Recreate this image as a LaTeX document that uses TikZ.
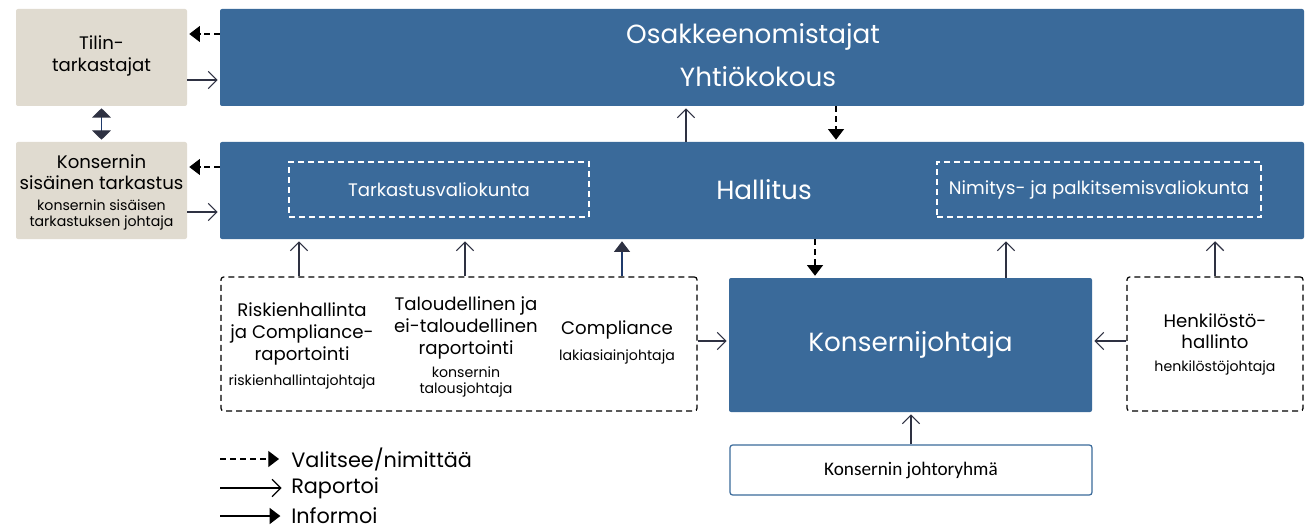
\documentclass[tikz,border=0pt]{standalone}
\usepackage{fontspec}
\setmainfont{Poppins}
\newfontfamily\calfont{Carlito}
\usetikzlibrary{arrows.meta}
\definecolor{boxblue}{HTML}{3A6A9A}
\definecolor{beige}{HTML}{E0DBD0}
\definecolor{arrgray}{HTML}{2E3142}
\definecolor{navy}{HTML}{1F3A6B}
\newcommand\pxu[1]{#1*0.75pt}
\tikzset{
  x=0.75pt, y=-0.75pt,
  bluebox/.style={fill=boxblue, rounded corners=1.5pt, inner sep=0pt, text=white},
  beigebox/.style={fill=beige, rounded corners=1.5pt, inner sep=0pt, text=black, align=center},
  wdash/.style={draw=white, line width=1pt, dash pattern=on 4.5pt off 3pt, inner sep=0pt, text=white},
  kdash/.style={draw=black, line width=0.9pt, dash pattern=on 4.5pt off 3pt, rounded corners=2pt, inner sep=0pt},
  report/.style={draw=arrgray, line width=0.9pt, -{Straight Barb[length=6.5pt,width=13pt,line width=0.9pt]}, shorten >=1.5pt},
  appoint/.style={draw=black, line width=0.9pt, dash pattern=on 4.5pt off 3pt, -{Triangle[length=8pt,width=12pt]}, shorten >=1.5pt},
  inform/.style={draw=navy, line width=0.9pt, -{Triangle[length=8pt,width=12pt,color=arrgray]}, shorten >=1.5pt},
  informleg/.style={draw=black, line width=0.9pt, -{Triangle[length=8pt,width=12pt]}, shorten >=1.5pt},
  big/.style={font=\fontsize{19.7}{23}\selectfont},
  mid/.style={font=\fontsize{13.6}{16.2}\selectfont},
  small/.style={font=\fontsize{10.6}{12}\selectfont},
  leg/.style={font=\fontsize{15.6}{18}\selectfont},
  txt/.style={inner sep=0pt, align=center},
}
\begin{document}
\begin{tikzpicture}
\useasboundingbox (0,0) rectangle (1308,531);
% boxes
\node[beigebox, minimum width={\pxu{171}}, minimum height={\pxu{97}}] (tilin) at (101.5,57.5) {};
\node[bluebox, minimum width={\pxu{1084}}, minimum height={\pxu{97}}] (osak) at (762,57.5) {};
\node[beigebox, minimum width={\pxu{171}}, minimum height={\pxu{97}}] (sisa) at (101.5,190.5) {};
\node[bluebox, minimum width={\pxu{1084}}, minimum height={\pxu{97}}] (hall) at (762,190.5) {};
\node[wdash, minimum width={\pxu{300}}, minimum height={\pxu{55}}, mid] (tark) at (439,189.5) {Tarkastusvaliokunta};
\node[wdash, minimum width={\pxu{324}}, minimum height={\pxu{55}}, mid] (nimi) at (1099,189.5) {Nimitys- ja palkitsemisvaliokunta};
\node[bluebox, minimum width={\pxu{363}}, minimum height={\pxu{134}}, big] (kjoht) at (910.5,345) {Konsernijohtaja};
\node[kdash, minimum width={\pxu{476}}, minimum height={\pxu{134}}] (rep) at (459,344) {};
\node[kdash, minimum width={\pxu{176}}, minimum height={\pxu{134}}] (henk) at (1215,344) {};
\node[draw=boxblue, line width=0.9pt, fill=white, rounded corners=2pt, minimum width={\pxu{362}}, minimum height={\pxu{50}}, inner sep=0pt, font=\calfont\fontsize{14.4}{16}\selectfont] (ryhma) at (911,470) {Konsernin johtoryhmä};
% texts
\node[txt, mid] (tilintxt) at (101.5,56) {Tilin-\\tarkastajat};
\node[txt, mid] (sisatxt) at (101.5,172) {Konsernin\\sisäinen tarkastus};
\node[txt, small] (sisasub) at (101.5,215) {konsernin sisäisen\\tarkastuksen johtaja};
\node[txt, big, text=white] (osaktxt) at (753,37) {Osakkeenomistajat};
\node[txt, big, text=white] (yhtio) at (758,77) {Yhtiökokous};
\node[txt, big, text=white] (halltxt) at (764,190) {Hallitus};
\node[txt, mid] (risk) at (302,334) {Riskienhallinta\\ja Compliance-\\raportointi};
\node[txt, small] (risksub) at (302,382) {riskienhallintajohtaja};
\node[txt, mid] (talo) at (466,328) {Taloudellinen ja\\ei-taloudellinen\\raportointi};
\node[txt, small] (talosub) at (466,382) {konsernin\\talousjohtaja};
\node[txt, mid] (comp) at (617,330) {Compliance};
\node[txt, small] (compsub) at (617,357) {lakiasiainjohtaja};
\node[txt, mid] (henktxt) at (1215,331) {Henkilöstö-\\hallinto};
\node[txt, small] (henksub) at (1215,368) {henkilöstöjohtaja};
% connectors
\draw[appoint] (osak.west |- 0,34) -- (tilin.east |- 0,34);
\draw[report] (tilin.east |- 0,80) -- (osak.west |- 0,80);
\draw[appoint] (hall.west |- 0,167) -- (sisa.east |- 0,167);
\draw[report] (sisa.east |- 0,212) -- (hall.west |- 0,212);
\draw[draw=navy, line width=0.9pt, {Triangle[length=7pt,width=14pt,color=arrgray]}-{Triangle[length=7pt,width=14pt,color=arrgray]}, shorten <=1.5pt, shorten >=1.5pt] (tilin.south) -- (sisa.north);
\draw[report] (hall.north -| 686,0) -- (osak.south -| 686,0);
\draw[appoint] (osak.south -| 836,0) -- (hall.north -| 836,0);
\draw[appoint] (hall.south -| 815,0) -- (kjoht.north -| 815,0);
\draw[report] (kjoht.north -| 1006,0) -- (hall.south -| 1006,0);
\draw[report] (rep.north -| 299,0) -- (hall.south -| 299,0);
\draw[report] (rep.north -| 465,0) -- (hall.south -| 465,0);
\draw[inform] (rep.north -| 622,0) -- (hall.south -| 622,0);
\draw[report] (rep.east |- 0,341) -- (kjoht.west |- 0,341);
\draw[report] (henk.north) -- (hall.south -| henk.north);
\draw[report] (henk.west |- 0,341) -- (kjoht.east |- 0,341);
\draw[report] (ryhma.north) -- (kjoht.south -| ryhma.north);
% legend
\node[txt, leg, anchor=west] (lv) at (291,459) {Valitsee/nimittää};
\node[txt, leg, anchor=west] (lr) at (291,488) {Raportoi};
\node[txt, leg, anchor=west] (li) at (291,516) {Informoi};
\coordinate (lva) at (220,459);
\coordinate (lra) at (220,488);
\coordinate (lia) at (220,516);
\draw[appoint, shorten >=9pt] (lva) -- (lv.west);
\draw[report, draw=black, shorten >=7pt] (lra) -- (lr.west);
\draw[informleg, shorten >=8pt] (lia) -- (li.west);
\end{tikzpicture}
\end{document}
